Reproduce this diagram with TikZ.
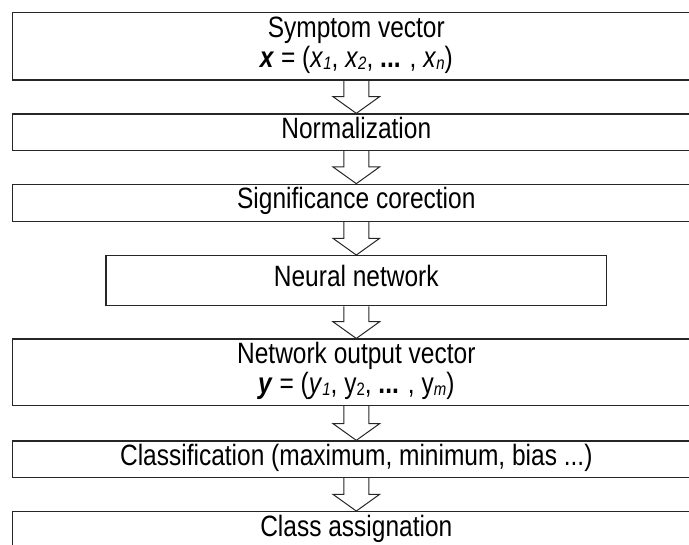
\documentclass[tikz,border=0pt]{standalone}
\usepackage{fontspec}
\usepackage{graphicx}
\setmainfont{Liberation Sans}
\usetikzlibrary{calc}
\tikzset{
  box/.style={draw=black!85, line width=1.3pt, minimum width=687.5pt, inner sep=0pt, align=center,
    font=\fontsize{24.5}{25}\selectfont},
  flow/.style={draw=black!85, line width=1pt, line join=miter},
}
\newcommand{\vst}[1]{\scalebox{1}[1.2]{\begin{tabular}{@{}c@{}}#1\end{tabular}}}
\newcommand{\sbs}[1]{\raisebox{-0.15ex}{\fontsize{15}{15}\selectfont #1}}
\newcommand{\flowarrow}[2]{%
  \draw[flow] ($(#1.south)+(-12.5,0)$) |- ($(#2.north)+(-23.3,-16.7)$) -- (#2.north)
     -- ($(#2.north)+(23.3,-16.7)$) -| ($(#1.south)+(12.5,0)$);}
\begin{document}
\begin{tikzpicture}[x=1pt,y=-1pt]
\useasboundingbox (0,0) rectangle (689,545);
\clip (0,0) rectangle (689,545);
\node[box, minimum height=67.5pt] (b1) at (356.3,46.25)
  {\vst{Symptom vector\\ \textbf{\textit{x}} = (\textit{x}\sbs{\textit{1}}, \textit{x}\sbs{\textit{2}}, \textbf{...} , \textit{x}\sbs{\textit{n}})}};
\node[box, minimum height=36.6pt] (b2) at (356.3,132.3) {\vst{Normalization}};
\node[box, minimum height=36.9pt] (b3) at (356.3,202.75) {\vst{Significance corection}};
\node[box, minimum height=50pt, minimum width=500.7pt] (b4) at (356.3,280.7) {\vst{Neural network}};
\node[box, minimum height=66.5pt] (b5) at (356.3,372.35)
  {\vst{Network output vector\\ \textbf{\textit{y}} = (\textit{y}\sbs{\textit{1}}, y\sbs{2}, \textbf{...} , y\sbs{\textit{m}})}};
\node[box, minimum height=36.6pt] (b6) at (356.3,459.3) {\vst{Classification (maximum, minimum, bias ...)}};
\node[box, minimum height=36.6pt] (b7) at (356.3,530) {\vst{Class assignation}};
\flowarrow{b1}{b2}
\flowarrow{b2}{b3}
\flowarrow{b3}{b4}
\flowarrow{b4}{b5}
\flowarrow{b5}{b6}
\flowarrow{b6}{b7}
\end{tikzpicture}
\end{document}
